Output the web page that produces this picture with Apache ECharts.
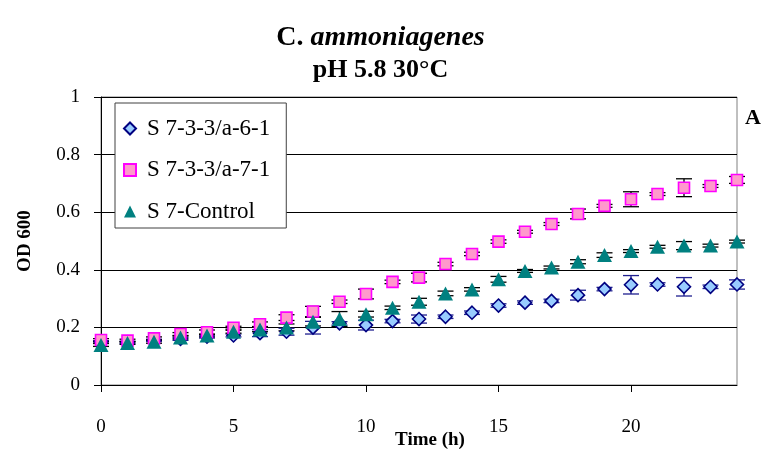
<!DOCTYPE html>
<html>
<head>
<meta charset="utf-8">
<script src="https://cdn.jsdelivr.net/npm/echarts@6/dist/echarts.min.js"></script>
<style>html,body{margin:0;padding:0;background:#fff}#c{width:761px;height:450px}</style>
</head>
<body>
<div id="c"></div>
<script>
const time = [0,1,2,3,4,5,6,7,8,9,10,11,12,13,14,15,16,17,18,19,20,21,22,23,24];
const s661 = [0.150,0.148,0.155,0.160,0.168,0.172,0.180,0.185,0.199,0.214,0.208,0.222,0.229,0.237,0.251,0.276,0.286,0.292,0.312,0.333,0.348,0.349,0.341,0.341,0.349];
const s771 = [0.156,0.154,0.162,0.177,0.183,0.199,0.211,0.234,0.255,0.289,0.316,0.358,0.373,0.420,0.455,0.498,0.532,0.559,0.594,0.622,0.645,0.663,0.685,0.691,0.712];
const ctrl = [0.139,0.146,0.150,0.165,0.172,0.185,0.193,0.200,0.220,0.229,0.246,0.268,0.289,0.318,0.332,0.367,0.396,0.408,0.428,0.451,0.465,0.480,0.484,0.484,0.498];
const err661 = [0.004,0.004,0.004,0.005,0.005,0.005,0.012,0.012,0.022,0.006,0.017,0.006,0.014,0.006,0.006,0.006,0.006,0.006,0.017,0.006,0.032,0.006,0.032,0.006,0.016];
const err771 = [0.005,0.005,0.005,0.005,0.008,0.005,0.008,0.010,0.018,0.006,0.017,0.006,0.015,0.006,0.006,0.006,0.005,0.005,0.017,0.005,0.026,0.005,0.031,0.005,0.012];
const errCtrl = [0.005,0.005,0.005,0.005,0.005,0.005,0.008,0.012,0.015,0.026,0.010,0.006,0.012,0.008,0.006,0.010,0.005,0.005,0.007,0.008,0.005,0.005,0.014,0.005,0.005];
const seriesNames = ['S 7-3-3/a-6-1','S 7-3-3/a-7-1','S 7-Control'];
const xTicks = [0,5,10,15,20];

const FONT = '"Liberation Serif", "DejaVu Serif", serif';

function pts(vals){ return time.map((t,i)=>[t, vals[i]]); }
function errs(vals, e){ return time.map((t,i)=>[t, vals[i]-e[i], vals[i]+e[i]]); }

function errRender(color){
  return function(params, api){
    const x = api.value(0);
    const lo = api.coord([x, api.value(1)]);
    const hi = api.coord([x, api.value(2)]);
    const hw = 8;
    const st = {stroke: color, lineWidth: 1.3};
    return {type:'group', children:[
      {type:'line', shape:{x1:lo[0], y1:lo[1], x2:hi[0], y2:hi[1]}, style:st},
      {type:'line', shape:{x1:lo[0]-hw, y1:lo[1], x2:lo[0]+hw, y2:lo[1]}, style:st},
      {type:'line', shape:{x1:hi[0]-hw, y1:hi[1], x2:hi[0]+hw, y2:hi[1]}, style:st}
    ]};
  };
}

const chart = echarts.init(document.getElementById('c'), null, {renderer:'canvas'});
chart.setOption({
  animation: false,
  backgroundColor: '#fff',
  textStyle: {fontFamily: FONT, color:'#000'},
  title: [
    {text: '{n|C. }{i|ammoniagenes}', left: 'center', top: 19,
     textStyle: {rich: {
       n: {fontFamily: FONT, fontSize: 28, fontWeight: 'bold', color:'#000'},
       i: {fontFamily: FONT, fontSize: 28, fontWeight: 'bold', fontStyle: 'italic', color:'#000'}
     }}},
    {text: 'pH 5.8 30°C', left: 'center', top: 52,
     textStyle: {fontFamily: FONT, fontSize: 26, fontWeight: 'bold', color:'#000'}},
    {text: 'A', left: 740, top: 102,
     textStyle: {fontFamily: FONT, fontSize: 22, fontWeight: 'bold', color:'#000'}}
  ],
  grid: {left: 101, right: 24, top: 97, bottom: 65, show: true, borderColor: '#808080', borderWidth: 1, containLabel: false, outerBoundsMode: 'none'},
  legend: {
    orient: 'vertical', left: 115, top: 103, zlevel: 2,
    data: seriesNames,
    backgroundColor: '#fff', borderColor: '#404040', borderWidth: 1,
    padding: [14, 16, 5, 8], itemGap: 18.5, itemWidth: 12, itemHeight: 12,
    textStyle: {fontFamily: FONT, fontSize: 23, color: '#000', lineHeight: 23, padding: [0,0,0,6]}
  },
  xAxis: {
    type: 'value', min: 0, max: 24,
    name: 'Time (h)', nameLocation: 'middle', nameGap: 46, nameMoveOverlap: false,
    nameTextStyle: {fontFamily: FONT, fontSize: 19, fontWeight: 'bold', color:'#000', padding: [0,0,0,22]},
    axisLine: {show: true, lineStyle: {color:'#000', width: 1}},
    axisTick: {show: true, inside: false, length: 7, customValues: xTicks, lineStyle:{color:'#000'}},
    axisLabel: {customValues: xTicks, margin: 33, fontFamily: FONT, fontSize: 19, color:'#000'},
    splitLine: {show: false}
  },
  yAxis: {
    type: 'value', min: 0, max: 1, interval: 0.2,
    name: 'OD 600', nameLocation: 'middle', nameGap: 66, nameRotate: 90, nameMoveOverlap: false,
    nameTextStyle: {fontFamily: FONT, fontSize: 19, fontWeight: 'bold', color:'#000'},
    axisLine: {show: true, lineStyle: {color:'#000', width: 1}},
    axisTick: {show: true, inside: false, length: 7, lineStyle:{color:'#000'}},
    axisLabel: {margin: 21, fontFamily: FONT, fontSize: 19, color:'#000'},
    splitLine: {show: true, lineStyle: {color:'#000', width: 1}}
  },
  series: [
    {type:'custom', name:'err661', renderItem: errRender('#1f1f8f'), data: errs(s661, err661), z: 2, silent: true, encode:{x:0, y:[1,2]}},
    {type:'custom', name:'err771', renderItem: errRender('#000'), data: errs(s771, err771), z: 2, silent: true, encode:{x:0, y:[1,2]}},
    {type:'custom', name:'errCtrl', renderItem: errRender('#000'), data: errs(ctrl, errCtrl), z: 2, silent: true, encode:{x:0, y:[1,2]}},
    {type:'scatter', name: seriesNames[0], data: pts(s661), symbol:'diamond', symbolSize: [13,13], zlevel: 1, z: 3,
     itemStyle: {color:'#99CCFF', borderColor:'#000080', borderWidth: 1.6, opacity: 1}},
    {type:'scatter', name: seriesNames[1], data: pts(s771), symbol:'rect', symbolSize: [11,11], zlevel: 1, z: 4,
     itemStyle: {color:'#FF99CC', borderColor:'#FF00FF', borderWidth: 1.6, opacity: 1}},
    {type:'scatter', name: seriesNames[2], data: pts(ctrl), symbol:'triangle', symbolSize: [15,14], zlevel: 1, z: 5,
     itemStyle: {color:'#008080', opacity: 1}}
  ]
});
</script>
</body>
</html>
